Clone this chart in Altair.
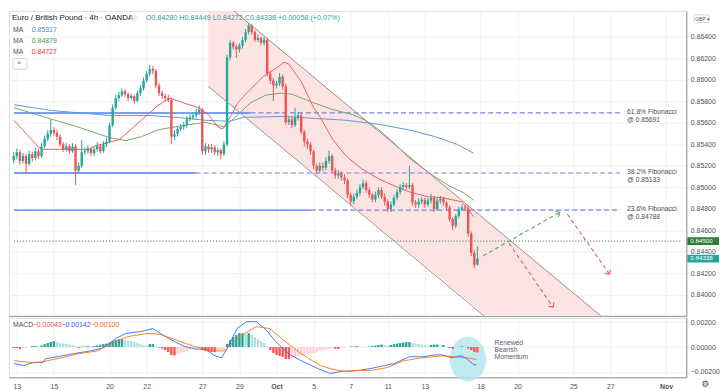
import altair as alt
import pandas as pd

W, H1, H2 = 684, 308, 60
FONT = "Liberation Sans"

# ---------------- data ----------------
closes = [0.85290,0.85326,0.85245,0.85290,0.85218,0.85308,0.85272,0.85335,0.85290,0.85380,
0.85452,0.85497,0.85533,0.85506,0.85470,0.85398,0.85353,0.85380,0.85335,0.85380,
0.85155,0.85200,0.85326,0.85335,0.85362,0.85317,0.85353,0.85380,0.85335,0.85398,
0.85425,0.85578,0.85740,0.85830,0.85857,0.85893,0.85866,0.85830,0.85848,0.85803,
0.85875,0.85920,0.85992,0.86055,0.86100,0.86082,0.85947,0.85875,0.85848,0.85830,
0.85812,0.85470,0.85497,0.85542,0.85560,0.85578,0.85632,0.85650,0.85668,0.85695,
0.85722,0.85335,0.85380,0.85353,0.85371,0.85326,0.85344,0.85308,0.85398,0.86208,
0.86343,0.86307,0.86280,0.86316,0.86370,0.86442,0.86505,0.86442,0.86370,0.86388,
0.86343,0.86370,0.86055,0.85992,0.85947,0.85965,0.86028,0.85938,0.85605,0.85632,
0.85578,0.85650,0.85668,0.85515,0.85425,0.85398,0.85335,0.85200,0.85155,0.85200,
0.85182,0.85245,0.85290,0.85155,0.85110,0.85128,0.85092,0.85065,0.84930,0.84867,
0.84912,0.84948,0.85002,0.85038,0.84975,0.84930,0.84885,0.84930,0.84975,0.84912,
0.84867,0.84795,0.84840,0.84903,0.84957,0.85002,0.85020,0.85002,0.85020,0.84858,
0.84840,0.84867,0.84885,0.84840,0.84876,0.84903,0.84795,0.84876,0.84894,0.84858,
0.84813,0.84705,0.84642,0.84732,0.84795,0.84813,0.84804,0.84570,0.84390,0.84280,
0.84338]
highs = [0.85330,0.85360,0.85350,0.85320,0.85310,0.85340,0.85330,0.85370,0.85360,0.85410,
0.85480,0.85530,0.85630,0.85560,0.85530,0.85490,0.85420,0.85410,0.85400,0.85410,
0.85400,0.85230,0.85440,0.85370,0.85390,0.85380,0.85380,0.85420,0.85400,0.85430,
0.85460,0.85600,0.85770,0.85860,0.85890,0.85920,0.85910,0.85880,0.85870,0.85860,
0.85900,0.85950,0.86020,0.86080,0.86140,0.86130,0.86100,0.85970,0.85900,0.85870,
0.85860,0.85830,0.85530,0.85570,0.85590,0.85610,0.85660,0.85680,0.85700,0.85730,
0.85760,0.85740,0.85410,0.85400,0.85400,0.85390,0.85370,0.85360,0.85430,0.86230,
0.86370,0.86360,0.86330,0.86340,0.86400,0.86470,0.86530,0.86520,0.86460,0.86420,
0.86400,0.86400,0.86390,0.86080,0.86020,0.85990,0.86060,0.86050,0.85960,0.85660,
0.85660,0.85740,0.85700,0.85690,0.85530,0.85450,0.85420,0.85350,0.85220,0.85230,
0.85230,0.85280,0.85340,0.85310,0.85180,0.85160,0.85150,0.85120,0.85080,0.84950,
0.84940,0.84980,0.85030,0.85070,0.85060,0.85000,0.84950,0.84960,0.85000,0.85000,
0.84940,0.84890,0.84870,0.84930,0.84980,0.85030,0.85050,0.85040,0.85200,0.85040,
0.84880,0.84900,0.84910,0.84900,0.84900,0.84940,0.84920,0.84900,0.84920,0.84910,
0.84870,0.84830,0.84720,0.84750,0.84820,0.84840,0.84840,0.84830,0.84590,0.84420,
0.84449]
lows = [0.85220,0.85260,0.85210,0.85220,0.85130,0.85200,0.85240,0.85250,0.85260,0.85270,
0.85360,0.85430,0.85470,0.85480,0.85440,0.85380,0.85330,0.85330,0.85310,0.85320,
0.85020,0.85130,0.85180,0.85300,0.85310,0.85290,0.85290,0.85330,0.85310,0.85320,
0.85370,0.85410,0.85560,0.85720,0.85800,0.85840,0.85840,0.85800,0.85810,0.85780,
0.85790,0.85850,0.85900,0.85970,0.86030,0.86050,0.85920,0.85850,0.85820,0.85800,
0.85790,0.85400,0.85440,0.85470,0.85520,0.85530,0.85550,0.85610,0.85630,0.85640,
0.85670,0.85300,0.85300,0.85320,0.85320,0.85300,0.85290,0.85260,0.85290,0.85380,
0.86180,0.86280,0.86200,0.86250,0.86290,0.86350,0.86420,0.86420,0.86350,0.86350,
0.86320,0.86320,0.86030,0.85960,0.85800,0.85920,0.85940,0.85910,0.85580,0.85580,
0.85550,0.85560,0.85620,0.85490,0.85380,0.85360,0.85300,0.85170,0.85120,0.85130,
0.85150,0.85160,0.85220,0.85130,0.85080,0.85080,0.85060,0.85030,0.84900,0.84830,
0.84840,0.84890,0.84920,0.84980,0.84950,0.84900,0.84860,0.84860,0.84900,0.84890,
0.84830,0.84770,0.84770,0.84820,0.84880,0.84930,0.84980,0.84980,0.84980,0.84830,
0.84810,0.84810,0.84840,0.84810,0.84820,0.84850,0.84770,0.84780,0.84850,0.84830,
0.84790,0.84680,0.84600,0.84620,0.84710,0.84780,0.84780,0.84540,0.84360,0.84250,
0.84272]
first_open = 0.85250

ma_blue_day = [-0.155,1.910,5.008,7.073,8.622,10.170,11.461,12.235,14.300,16.004,17.759,19.463,21.167,22.561,23.748,24.626]
ma_blue_val = [0.85767,0.85713,0.85668,0.85668,0.85650,0.85623,0.85614,0.85650,0.85659,0.85641,0.85623,0.85587,0.85533,0.85470,0.85398,0.85317]
ma_green_day = [-0.155,1.549,3.304,5.008,5.885,6.711,7.589,8.467,10.170,11.203,11.874,12.597,13.423,14.300,14.817,16.004,17.037,18.069,18.792,19.463,20.134,21.167,22.199,23.232,24.110,24.626]
ma_green_val = [0.85740,0.85650,0.85560,0.85461,0.85434,0.85470,0.85533,0.85560,0.85605,0.85560,0.85668,0.85785,0.85857,0.85875,0.85866,0.85785,0.85722,0.85677,0.85623,0.85542,0.85443,0.85272,0.85137,0.85020,0.84948,0.84879]
ma_red_day = [-0.155,1.136,1.394,3.975,4.130,5.524,6.711,7.589,8.260,8.983,9.809,10.325,10.842,11.100,11.564,11.874,12.390,13.268,14.146,14.404,14.662,15.333,16.004,16.366,17.037,17.759,18.585,19.463,20.496,21.167,22.199,22.922,23.955,24.264,24.626]
ma_red_val = [0.85623,0.85380,0.85353,0.85353,0.85380,0.85443,0.85623,0.85758,0.85830,0.85785,0.85740,0.85677,0.85560,0.85542,0.85668,0.85776,0.85875,0.86028,0.86127,0.86163,0.86145,0.85983,0.85740,0.85650,0.85443,0.85290,0.85173,0.85083,0.85002,0.84957,0.84912,0.84903,0.84867,0.84813,0.84727]

macd_day = [-0.155,0.361,0.877,1.394,1.549,2.426,3.304,3.975,4.646,5.369,5.885,6.711,7.331,7.744,8.260,8.983,9.654,10.170,10.687,11.048,11.358,11.874,12.390,12.907,13.423,13.939,14.662,15.333,16.211,16.882,17.553,18.430,19.101,19.824,20.341,21.167,21.890,22.561,22.922,23.439,23.955,24.264,24.626,24.781]
macd_val = [-0.00133,-0.00149,-0.00125,-0.00125,-0.00094,-0.00071,-0.00047,-0.00031,-0.00008,0.00071,0.00110,0.00125,0.00149,0.00110,0.00063,0.00008,-0.00016,-0.00016,-0.00071,-0.00086,-0.00008,0.00149,0.00204,0.00204,0.00141,0.00047,-0.00055,-0.00110,-0.00172,-0.00212,-0.00196,-0.00188,-0.00172,-0.00149,-0.00133,-0.00078,-0.00078,-0.00063,-0.00063,-0.00086,-0.00071,-0.00094,-0.00141,-0.00142]
sig_day = [-0.155,0.877,1.394,2.426,3.304,4.336,5.008,6.040,7.073,7.744,8.467,9.499,10.532,11.203,11.874,12.907,13.630,14.455,15.333,16.366,17.037,17.759,18.430,19.101,19.979,20.857,21.890,22.922,23.594,24.264,24.781]
sig_val = [-0.00110,-0.00125,-0.00118,-0.00086,-0.00055,-0.00031,0.00024,0.00086,0.00110,0.00102,0.00063,0.00008,-0.00031,-0.00031,0.00071,0.00165,0.00149,0.00047,-0.00055,-0.00149,-0.00180,-0.00196,-0.00188,-0.00188,-0.00165,-0.00110,-0.00086,-0.00071,-0.00078,-0.00086,-0.00100]
hist = [-0.00008,-0.00008,-0.00016,-0.00008,-0.00004,0,0.00008,0.00008,0.00004,0.00012,
0.00024,0.00032,0.0004,0.00048,0.0004,0.00032,0.00028,0.00024,0.0002,0.00016,
0.00008,-0.00008,0.00004,0.00004,0.00008,0.00004,0.00008,0.00012,0.0002,0.00024,
0.00028,0.00036,0.00048,0.00056,0.00064,0.00064,0.00056,0.00052,0.00048,0.0004,
0.00032,0.00024,0.00016,0.00012,0.00024,0.00024,0.00008,-0.00004,-0.00012,-0.00024,
-0.0004,-0.00064,-0.00068,-0.00056,-0.00048,-0.0004,-0.00032,-0.00024,-0.00016,-0.00008,
-0.00004,-0.00024,-0.00032,-0.00036,-0.0004,-0.0004,-0.00036,-0.00028,-0.00024,0.00024,
0.00056,0.0008,0.00096,0.00112,0.00112,0.00104,0.00112,0.00096,0.0008,0.00064,
0.00048,0.00032,0.00008,-0.00024,-0.00048,-0.00064,-0.00072,-0.0008,-0.00096,-0.00096,
-0.00088,-0.0008,-0.00072,-0.00068,-0.00064,-0.00056,-0.00052,-0.00048,-0.0004,-0.00032,
-0.00028,-0.00024,-0.00016,-0.00012,-0.00014,-0.00016,-0.00008,-0.00004,0,0.00004,
0.00004,0.00008,0.00004,0.00002,0.00002,0.00004,0.00008,0.00012,0.00016,0.0002,
0.00016,0.00012,0.00016,0.00024,0.00028,0.00032,0.00036,0.0004,0.0004,0.00032,
0.00028,0.00024,0.0002,0.00016,0.00012,0.00016,0.0002,0.0002,0.00016,0.00016,
0.00004,-0.00008,-0.00016,-0.00008,0.00002,0.00006,0.00002,-0.00012,-0.00024,-0.0004,
-0.00043]

fib_levels = [0.85691, 0.85133, 0.84788]
fib_names = ["61.8% Fibonacci", "38.2% Fibonacci", "23.6% Fibonacci"]
fib_at = ["@ 0.85691", "@ 0.85133", "@ 0.84788"]
solid_end_day = [12.6, 9.65, 15.85]
dash_end_day = 32.52
fib_label_day = 32.9

channel_upper_day = [10.325, 31.80]
channel_upper_val = [0.86838, 0.83760]
channel_lower_day = [10.325, 25.50]
channel_lower_val = [0.85938, 0.83760]
zone_day = [10.325, 25.297, 31.492]
zone_top = [0.86838, 0.84696, 0.83805]
zone_bottom = [0.85938, 0.83805, 0.83805]

green_arrow_day = [25.142, 29.272]
green_arrow_val = [0.84363, 0.84768]
red_arrow1_day = [26.536, 28.911]
red_arrow1_val = [0.84480, 0.83886]
red_arrow2_day = [29.685, 31.957]
red_arrow2_val = [0.84750, 0.84192]

pivot_level = 0.845
last_price = 0.84338

note_lines = ["Renewed", "Bearish", "Momentum"]
note_vals = [0.00036, -0.00024, -0.00084]

tick_days = [0, 2, 5, 7, 10, 12, 14, 16, 18, 20, 22, 25, 27, 30, 32, 35]
tick_labels = ["13", "15", "20", "22", "27", "29", "Oct", "5", "7", "11", "13", "18", "20", "25", "27", "Nov"]
price_ticks = [0.840, 0.842, 0.844, 0.846, 0.848, 0.850, 0.852, 0.854, 0.856, 0.858, 0.860, 0.862, 0.864]
macd_ticks = [-0.002, 0.0, 0.002]

# ---------------- styling ----------------
UP, DOWN = "#26a69a", "#ef5350"
GRID, AXC, LAB = "#eff2f7", "#9598a1", "#50535e"

xs = alt.Scale(domain=[-0.155, 35.83], nice=False, zero=False)
ys = alt.Scale(domain=[0.83805, 0.8664], nice=False, zero=False)
ms = alt.Scale(domain=[-0.00243, 0.00235], nice=False, zero=False)

x_axis_top = alt.Axis(values=tick_days, labels=False, ticks=False, domain=True, domainColor=AXC,
                      grid=True, gridColor=GRID, title=None)
label_expr = ("[" + ",".join("'%s'" % l for l in tick_labels) + "][indexof([" +
              ",".join(str(d) for d in tick_days) + "], datum.value)]")
x_axis_bot = alt.Axis(values=tick_days, labelExpr=label_expr, ticks=False, domain=True, domainColor=AXC,
                      grid=True, gridColor=GRID, title=None, labelFontSize=7, labelColor=LAB,
                      labelFont=FONT, labelPadding=5, labelFlush=False,
                      labelFontWeight={"condition": {"test": "datum.value == 14 || datum.value == 35",
                                                     "value": "bold"}, "value": "normal"})
y_axis_top = alt.Axis(orient="right", values=price_ticks, format=".5f", labelFontSize=7, labelColor=LAB,
                      labelFont=FONT, ticks=False, domain=True, domainColor=AXC, grid=True, gridColor=GRID,
                      labelPadding=4, title=None)
y_axis_bot = alt.Axis(orient="right", values=macd_ticks, format=".5f", labelFontSize=7, labelColor=LAB,
                      labelFont=FONT, ticks=False, domain=True, domainColor=AXC, grid=True, gridColor=GRID,
                      labelPadding=4, title=None)


def XT(f):
    return alt.X(f + ":Q", scale=xs, axis=x_axis_top, title=None)


def YT(f):
    return alt.Y(f + ":Q", scale=ys, axis=y_axis_top, title=None)


def XB(f):
    return alt.X(f + ":Q", scale=xs, axis=x_axis_bot, title=None)


def YB(f):
    return alt.Y(f + ":Q", scale=ms, axis=y_axis_bot, title=None)


# ---------------- main panel ----------------
opens = [first_open] + closes[:-1]
cdf = pd.DataFrame({"day": [(i - 1) / 6 for i in range(len(closes))], "open": opens, "high": highs,
                    "low": lows, "close": closes})
cdf["col"] = [UP if c >= o else DOWN for o, c in zip(cdf.open, cdf.close)]

zone = alt.Chart(pd.DataFrame({"day": zone_day, "top": zone_top, "bot": zone_bottom})).mark_area(
    color="#fce4e3", clip=True).encode(x=XT("day"), y=YT("top"), y2="bot:Q")

solid_df = pd.DataFrame({"d0": [-0.155] * 3, "d1": solid_end_day, "lv": fib_levels})
solid = alt.Chart(solid_df).mark_rule(color="#4f7ff0", strokeWidth=1.4).encode(
    x=XT("d0"), x2="d1:Q", y=YT("lv"))
dash_df = pd.DataFrame({"d0": solid_end_day, "d1": [dash_end_day] * 3, "lv": fib_levels})
dashed = alt.Chart(dash_df).mark_rule(color="#7d7fe8", strokeWidth=1.2, strokeDash=[5, 3]).encode(
    x=XT("d0"), x2="d1:Q", y=YT("lv"))
pivot = alt.Chart(pd.DataFrame({"d0": [-0.155], "d1": [35.83], "lv": [pivot_level]})).mark_rule(
    color="#40613f", strokeWidth=1, strokeDash=[1, 2]).encode(x=XT("d0"), x2="d1:Q", y=YT("lv"))

ma_rows = ([{"day": d, "v": v, "id": "blue", "col": "#5b9bd8"} for d, v in zip(ma_blue_day, ma_blue_val)] +
           [{"day": d, "v": v, "id": "green", "col": "#7aa766"} for d, v in zip(ma_green_day, ma_green_val)] +
           [{"day": d, "v": v, "id": "red", "col": "#e8605c"} for d, v in zip(ma_red_day, ma_red_val)])
mas = alt.Chart(pd.DataFrame(ma_rows)).mark_line(strokeWidth=1, clip=True).encode(
    x=XT("day"), y=YT("v"), detail="id:N", color=alt.Color("col:N", scale=None))

wick = alt.Chart(cdf).mark_rule(strokeWidth=1).encode(
    x=XT("day"), y=YT("low"), y2="high:Q", color=alt.Color("col:N", scale=None))
body = alt.Chart(cdf).mark_bar(size=2.4).encode(
    x=XT("day"), y=YT("open"), y2="close:Q", color=alt.Color("col:N", scale=None))

ch_rows = ([{"day": d, "v": v, "id": "u"} for d, v in zip(channel_upper_day, channel_upper_val)] +
           [{"day": d, "v": v, "id": "l"} for d, v in zip(channel_lower_day, channel_lower_val)])
channel = alt.Chart(pd.DataFrame(ch_rows)).mark_line(color="#a08c8c", strokeWidth=1, clip=True).encode(
    x=XT("day"), y=YT("v"), detail="id:N")

arr_rows = ([{"day": d, "v": v, "id": "g", "col": "#5da55a"} for d, v in zip(green_arrow_day, green_arrow_val)] +
            [{"day": d, "v": v, "id": "r1", "col": "#e25b5b"} for d, v in zip(red_arrow1_day, red_arrow1_val)] +
            [{"day": d, "v": v, "id": "r2", "col": "#e25b5b"} for d, v in zip(red_arrow2_day, red_arrow2_val)])
arrows = alt.Chart(pd.DataFrame(arr_rows)).mark_line(strokeWidth=1.1, strokeDash=[4, 3]).encode(
    x=XT("day"), y=YT("v"), detail="id:N", color=alt.Color("col:N", scale=None))
heads_df = pd.DataFrame({"day": [green_arrow_day[1], red_arrow1_day[1], red_arrow2_day[1]],
                         "v": [green_arrow_val[1], red_arrow1_val[1], red_arrow2_val[1]],
                         "ang": [241, 325, 325], "col": ["#5da55a", "#e25b5b", "#e25b5b"]})
heads = alt.Chart(heads_df).mark_point(shape="M-1,-1L0,0L1,-1", filled=False, size=45, strokeWidth=1.1,
                                       opacity=1).encode(
    x=XT("day"), y=YT("v"), angle=alt.Angle("ang:Q", scale=None), color=alt.Color("col:N", scale=None))

fib_df = pd.DataFrame({"day": [fib_label_day] * 3, "v": fib_levels, "name": fib_names, "at": fib_at})
fib_txt1 = alt.Chart(fib_df).mark_text(
    align="left", baseline="middle", fontSize=6.8, font=FONT, color="#4a4e5a", dy=-1).encode(
    x=XT("day"), y=YT("v"), text="name:N")
fib_txt2 = alt.Chart(fib_df).mark_text(
    align="left", baseline="middle", fontSize=6.8, font=FONT, color="#4a4e5a", dy=7).encode(
    x=XT("day"), y=YT("v"), text="at:N")

box_df = pd.DataFrame({"p": [pivot_level, last_price], "lo": [pivot_level - 0.00036, last_price - 0.00036],
                       "hi": [pivot_level + 0.00036, last_price + 0.00036],
                       "t": ["%.5f" % pivot_level, "%.5f" % last_price], "col": ["#2f7d34", UP]})
boxes = alt.Chart(box_df).mark_rect().encode(
    x=alt.value(W + 1), x2=alt.value(W + 33), y=YT("lo"), y2="hi:Q", color=alt.Color("col:N", scale=None))
box_txt = alt.Chart(box_df).mark_text(align="left", baseline="middle", fontSize=6.3, font=FONT,
                                      color="white").encode(x=alt.value(W + 4), y=YT("p"), text="t:N")


def label(txt, px, py, color, size=7.5, weight="normal"):
    return alt.Chart(pd.DataFrame({"t": [txt]})).mark_text(
        align="left", baseline="middle", fontSize=size, font=FONT, color=color, fontWeight=weight).encode(
        x=alt.value(px), y=alt.value(py), text="t:N")


title_txt = label("Euro / British Pound · 4h · OANDA", 3, 7, "#131722", 8)
dot = alt.Chart(pd.DataFrame({"a": [1]})).mark_point(filled=True, size=40, color="#e0e3eb").encode(
    x=alt.value(126), y=alt.value(7))
ohlc_txt = label("O0.84280 H0.84449 L0.84272 C0.84338 +0.00058 (+0.07%)", 138, 7, UP, 7.3)
ma_lbls = [label("MA", 4, 19, "#50535e", 7), label("0.85317", 23, 19, "#3f8fd8", 7),
           label("MA", 4, 30.5, "#50535e", 7), label("0.84879", 23, 30.5, "#43a047", 7),
           label("MA", 4, 42, "#50535e", 7), label("0.84727", 23, 42, "#e53935", 7)]
btn = alt.Chart(pd.DataFrame({"a": [1]})).mark_rect(fill="white", stroke="#d1d4dc", cornerRadius=2).encode(
    x=alt.value(4), x2=alt.value(18), y=alt.value(48), y2=alt.value(59))
btn_txt = label("^", 8.5, 54, "#131722", 7)
gbp_box = alt.Chart(pd.DataFrame({"a": [1]})).mark_rect(fill="white", stroke="#d1d4dc", cornerRadius=1).encode(
    x=alt.value(W + 8), x2=alt.value(W + 23), y=alt.value(4), y2=alt.value(12))
gbp_txt = label("GBP ▾", W + 9, 8, "#50535e", 5)

main = alt.layer(zone, solid, dashed, pivot, mas, wick, body, channel, arrows, heads, fib_txt1, fib_txt2,
                 boxes, box_txt, title_txt, dot, ohlc_txt, *ma_lbls, btn, btn_txt, gbp_box, gbp_txt
                 ).properties(width=W, height=H1)

# ---------------- MACD panel ----------------
hcols = []
prev = None
for h in hist:
    p = h if prev is None else prev
    if h >= 0:
        hcols.append("#26a69a" if h >= p else "#b2dfdb")
    else:
        hcols.append("#ff5252" if h <= p else "#ffcdd2")
    prev = h
hdf = pd.DataFrame({"day": [(i - 1) / 6 for i in range(len(hist))], "h": hist, "zero": [0.0] * len(hist),
                    "col": hcols})

ellipse = alt.Chart(pd.DataFrame({"day": [24.32], "v": [-0.00098]})).mark_point(
    shape="M-0.82,0A0.82,1,0,1,1,0.82,0A0.82,1,0,1,1,-0.82,0Z", filled=True, size=2025,
    color="#b2e6ee", opacity=0.8, strokeWidth=0).encode(x=XB("day"), y=YB("v"))
bars = alt.Chart(hdf).mark_bar(size=2.4).encode(x=XB("day"), y=YB("zero"), y2="h:Q",
                                                color=alt.Color("col:N", scale=None))
ml_rows = ([{"day": d, "v": v, "id": "m", "col": "#2962ff"} for d, v in zip(macd_day, macd_val)] +
           [{"day": d, "v": v, "id": "s", "col": "#ff6d00"} for d, v in zip(sig_day, sig_val)])
mlines = alt.Chart(pd.DataFrame(ml_rows)).mark_line(strokeWidth=1, opacity=0.85).encode(
    x=XB("day"), y=YB("v"), detail="id:N", color=alt.Color("col:N", scale=None))
note_df = pd.DataFrame({"day": [25.76] * 3, "v": note_vals, "t": note_lines})
note = alt.Chart(note_df).mark_text(align="left", baseline="middle", fontSize=6.8, font=FONT,
                                    color="#5d606b").encode(x=XB("day"), y=YB("v"), text="t:N")
macd_lbls = [label("MACD", 4, 7, "#50535e", 7), label("−0.00043", 24, 7, "#ef5350", 7),
             label("−0.00142", 53, 7, "#2962ff", 7), label("−0.00100", 82, 7, "#ff6d00", 7)]
gear = alt.Chart(pd.DataFrame({"t": ["⚙"]})).mark_text(
    align="center", baseline="middle", fontSize=9, font="DejaVu Sans", color="#50535e").encode(
    x=alt.value(W + 19), y=alt.value(H2 + 7), text="t:N")

macd = alt.layer(ellipse, bars, mlines, note, *macd_lbls, gear).properties(width=W, height=H2)

chart = alt.vconcat(main, macd, spacing=0, padding={"left": 0, "top": 0, "right": 0, "bottom": 0}
                    ).configure_view(stroke=None).configure(background="white")

chart.save("out.html", embed_options={"renderer": "svg", "actions": False})
